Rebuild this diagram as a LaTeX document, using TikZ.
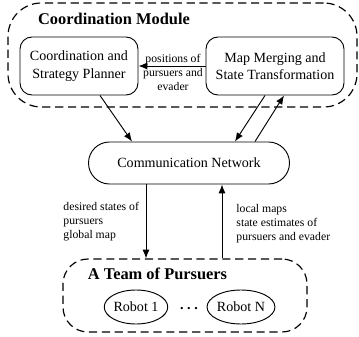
\documentclass[tikz,border=0pt]{standalone}
\usepackage{fontspec}
\setmainfont{Liberation Serif}
\usetikzlibrary{shapes.geometric,arrows.meta}
\begin{document}
\begin{tikzpicture}[x=0.03cm, y=-0.03cm, line width=0.8pt,
    box/.style={draw, rounded corners=0.36cm, align=center, inner sep=0pt,
        font=\fontsize{12}{15}\selectfont},
    group/.style={draw, dash pattern=on 7pt off 4pt, line width=1pt},
    robot/.style={draw, ellipse, minimum width=1.86cm, minimum height=1.02cm,
        inner sep=0pt, font=\fontsize{12}{15}\selectfont},
    grouptitle/.style={font=\fontsize{14}{17}\selectfont\bfseries},
    msg/.style={font=\fontsize{10}{12}\selectfont, inner sep=0pt},
    arr/.style={-{Latex[length=7.5pt,width=6pt]}}]
    \useasboundingbox (0,0) rectangle (359,337);

    % coordination module
    \node[group, rounded corners=1cm, minimum width=10.47cm, minimum height=3.12cm] (module) at (182.5,55) {};
    \node[grouptitle] (moduletitle) at (114,19) {Coordination Module};
    \node[box, minimum width=3.54cm, minimum height=1.74cm] (planner) at (79,66) {Coordination and\\Strategy Planner};
    \node[box, minimum width=4.14cm, minimum height=1.74cm] (merger) at (275,66) {Map Merging and\\State Transformation};
    \node[msg, align=center] (posmsg) at (173,72) {positions of\\pursuers and\\evader};

    % communication network
    \node[box, rounded corners=0.63cm, minimum width=6.03cm, minimum height=1.26cm] (comm) at (189,163) {Communication Network};

    % team of pursuers
    \node[group, rounded corners=0.75cm, minimum width=7.32cm, minimum height=2.19cm] (team) at (185,295.5) {};
    \node[grouptitle] (teamtitle) at (157.5,274) {A Team of Pursuers};
    \node[robot] (robotone) at (136,307) {Robot 1};
    \node[font=\fontsize{12}{15}\selectfont\bfseries] (dots) at (189,309) {.\ .\ .};
    \node[robot] (robotn) at (241,307) {Robot N};

    \node[msg, align=left, anchor=west] (downmsg) at (63,222) {desired states of\\pursuers\\global map};
    \node[msg, align=left, anchor=west] (upmsg) at (236,224) {local maps\\state estimates of\\pursuers and evader};

    % connectors
    \draw[arr] (merger) -- (planner);
    \draw[arr] ([xshift=0.63cm]planner.south) -- ([xshift=-1.71cm]comm.north);
    \draw[arr] ([xshift=-0.3cm]merger.south) -- ([xshift=1.38cm]comm.north);
    \draw[arr] ([xshift=1.98cm]comm.north) -- ([xshift=0.27cm]merger.south);
    \coordinate (downx) at (146,0);
    \coordinate (upx) at (222,0);
    \draw[arr] (comm.south -| downx) -- (team.north -| downx);
    \draw[arr] (team.north -| upx) -- (comm.south -| upx);
\end{tikzpicture}
\end{document}
